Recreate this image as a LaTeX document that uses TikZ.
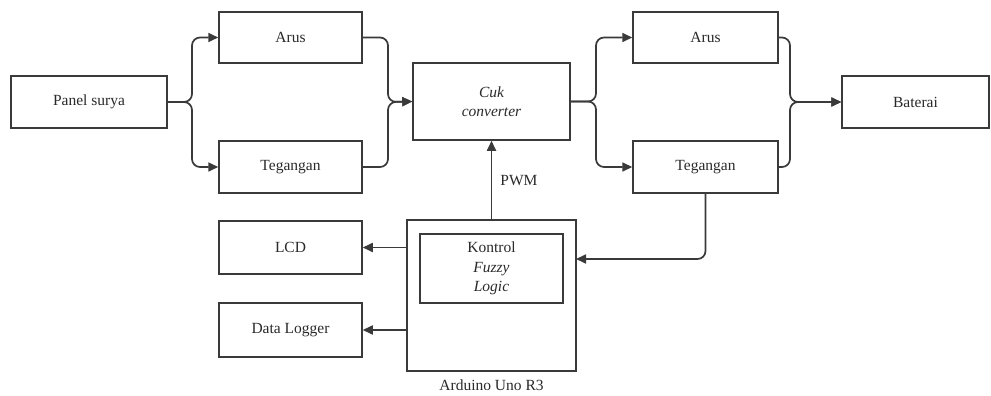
\documentclass[tikz,border=0pt]{standalone}
\usepackage{fontspec}
\setmainfont{Liberation Serif}
\usetikzlibrary{arrows.meta}
\definecolor{ln}{HTML}{3A3A3A}
\definecolor{tx}{HTML}{2A2A2A}
\begin{document}
\begin{tikzpicture}[x=1pt,y=-1pt,
  box/.style={draw=ln,line width=1.5pt,rectangle,inner sep=0pt,text=tx,
    font=\fontsize{15.5}{19.5}\selectfont,align=center},
  lbl/.style={text=tx,font=\fontsize{15.5}{19.5}\selectfont},
  conn/.style={draw=ln,line width=1.7pt,rounded corners=8pt},
  arr/.style={conn,-{Triangle[length=10pt,width=9pt]}}]
\useasboundingbox (0,0) rectangle (991,396);
\fill[white] (0,0) rectangle (991,396);
% nodes
\node[box,minimum width=156pt,minimum height=52pt] (pv) at (89,102) {Panel surya};
\node[box,minimum width=143pt,minimum height=51pt] (a1) at (290.5,37.5) {Arus};
\node[box,minimum width=143pt,minimum height=52pt] (t1) at (290.5,167) {Tegangan};
\node[box,minimum width=157pt,minimum height=77pt] (cuk) at (491.5,101.5) {\itshape Cuk\\\itshape converter};
\node[box,minimum width=145pt,minimum height=51pt] (a2) at (705.5,37.5) {Arus};
\node[box,minimum width=145pt,minimum height=52pt] (t2) at (705.5,167) {Tegangan};
\node[box,minimum width=147pt,minimum height=52pt] (bat) at (915.5,102) {Baterai};
\node[box,minimum width=169pt,minimum height=151pt] (ard) at (491.5,295.5) {};
\node[box,minimum width=143pt,minimum height=69pt] (fz) at (491.5,268.5) {Kontrol\\\itshape Fuzzy\\\itshape Logic};
\node[box,minimum width=143pt,minimum height=53pt] (lcd) at (290.5,247.5) {LCD};
\node[box,minimum width=143pt,minimum height=54pt] (dl) at (290.5,330) {Data Logger};
\node[lbl] (ardl) at (491.5,385) {Arduino Uno R3};
\node[lbl] (pwm) at (519,181) {PWM};
% junction coordinates
\coordinate (s1) at (192,102);
\coordinate (m1) at (388,102);
\coordinate (s2) at (596,101.5);
\coordinate (m2) at (790,102);
\coordinate (ardin) at (576,259);
% connectors
\draw[arr] (pv.east) -- (s1) |- (a1.west);
\draw[arr] (pv.east) -- (s1) |- (t1.west);
\draw[arr] (a1.east) -| (m1) -- (cuk.west);
\draw[arr] (t1.east) -| (m1) -- (cuk.west);
\draw[arr] (cuk.east) -- (s2) |- (a2.west);
\draw[arr] (cuk.east) -- (s2) |- (t2.west);
\draw[arr] (a2.east) -| (m2) -- (bat.west);
\draw[arr] (t2.east) -| (m2) -- (bat.west);
\draw[arr] (ard.north) -- (cuk.south);
\draw[arr] (t2.south) |- (ardin);
\draw[arr] (ard.west |- lcd.east) -- (lcd.east);
\draw[arr] (ard.west |- dl.east) -- (dl.east);
\end{tikzpicture}
\end{document}
